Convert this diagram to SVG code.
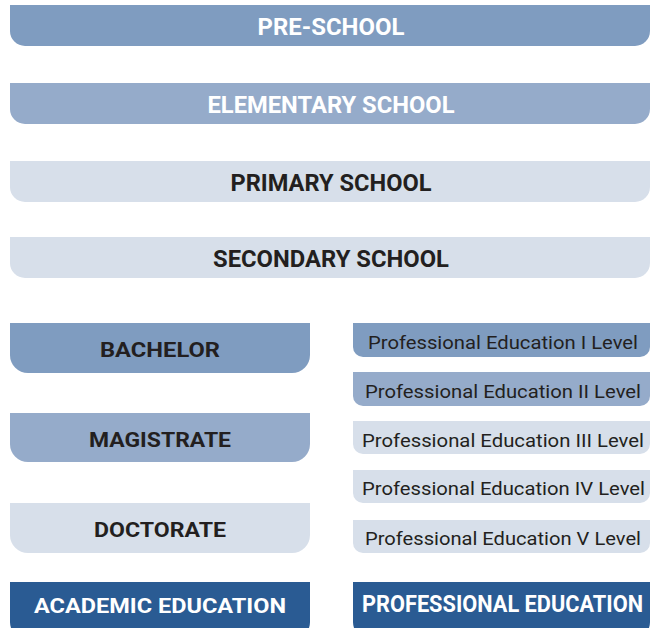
<svg xmlns="http://www.w3.org/2000/svg" width="650" height="628" viewBox="0 0 650 628">
<style>
.c1{fill:#7f9cc0}.c2{fill:#95abca}.c3{fill:#d7dfea}.c4{fill:#2a5b93}
.h{font-family:Roboto,"Liberation Sans",sans-serif;font-weight:700;text-anchor:middle}
.top{font-size:23px}
.mid{font-size:21px}
.lv{font-family:Roboto,"Liberation Sans",sans-serif;font-size:18.5px;text-anchor:middle;fill:#231f20}
.w{fill:#ffffff}.d{fill:#231f20}
</style>
<rect width="650" height="628" fill="#ffffff"/>
<g id="pre-school"><path class="c1" d="M10 5H650V31A15 15 0 0 1 635 46H25A15 15 0 0 1 10 31Z"/><text class="h top w" x="331" y="35" textLength="147" lengthAdjust="spacingAndGlyphs">PRE-SCHOOL</text></g>
<g id="elementary-school"><path class="c2" d="M10 83H650V109A15 15 0 0 1 635 124H25A15 15 0 0 1 10 109Z"/><text class="h top w" x="331" y="113" textLength="247" lengthAdjust="spacingAndGlyphs">ELEMENTARY SCHOOL</text></g>
<g id="primary-school"><path class="c3" d="M10 161H650V187A15 15 0 0 1 635 202H25A15 15 0 0 1 10 187Z"/><text class="h top d" x="331" y="191" textLength="201" lengthAdjust="spacingAndGlyphs">PRIMARY SCHOOL</text></g>
<g id="secondary-school"><path class="c3" d="M10 237H650V263A15 15 0 0 1 635 278H25A15 15 0 0 1 10 263Z"/><text class="h top d" x="331" y="267" textLength="236" lengthAdjust="spacingAndGlyphs">SECONDARY SCHOOL</text></g>
<g id="bachelor"><path class="c1" d="M10 323H310V355A18 18 0 0 1 292 373H28A18 18 0 0 1 10 355Z"/><text class="h mid d" x="160" y="357" textLength="120" lengthAdjust="spacingAndGlyphs">BACHELOR</text></g>
<g id="magistrate"><path class="c2" d="M10 413H310V444A18 18 0 0 1 292 462H28A18 18 0 0 1 10 444Z"/><text class="h mid d" x="160" y="447" textLength="142" lengthAdjust="spacingAndGlyphs">MAGISTRATE</text></g>
<g id="doctorate"><path class="c3" d="M10 503H310V535A18 18 0 0 1 292 553H28A18 18 0 0 1 10 535Z"/><text class="h mid d" x="160" y="537" textLength="132" lengthAdjust="spacingAndGlyphs">DOCTORATE</text></g>
<g id="academic-education"><path class="c4" d="M10 582H310V622A18 18 0 0 1 292 640H28A18 18 0 0 1 10 622Z"/><text class="h mid w" x="160" y="613" textLength="252" lengthAdjust="spacingAndGlyphs">ACADEMIC EDUCATION</text></g>
<g id="prof-level-1"><path class="c1" d="M353 323H650V347A10 10 0 0 1 640 357H363A10 10 0 0 1 353 347Z"/><text class="lv" x="503" y="349" textLength="270" lengthAdjust="spacingAndGlyphs">Professional Education I Level</text></g>
<g id="prof-level-2"><path class="c2" d="M353 372H650V396A10 10 0 0 1 640 406H363A10 10 0 0 1 353 396Z"/><text class="lv" x="503" y="398" textLength="276" lengthAdjust="spacingAndGlyphs">Professional Education II Level</text></g>
<g id="prof-level-3"><path class="c3" d="M353 421H650V444A10 10 0 0 1 640 454H363A10 10 0 0 1 353 444Z"/><text class="lv" x="503" y="447" textLength="282" lengthAdjust="spacingAndGlyphs">Professional Education III Level</text></g>
<g id="prof-level-4"><path class="c3" d="M353 470H650V493A10 10 0 0 1 640 503H363A10 10 0 0 1 353 493Z"/><text class="lv" x="503.5" y="495" textLength="283" lengthAdjust="spacingAndGlyphs">Professional Education IV Level</text></g>
<g id="prof-level-5"><path class="c3" d="M353 520H650V543A10 10 0 0 1 640 553H363A10 10 0 0 1 353 543Z"/><text class="lv" x="503" y="545" textLength="276" lengthAdjust="spacingAndGlyphs">Professional Education V Level</text></g>
<g id="professional-education"><path class="c4" d="M353 582H650V622A18 18 0 0 1 632 640H371A18 18 0 0 1 353 622Z"/><text class="h top w" x="502.5" y="612" textLength="281" lengthAdjust="spacingAndGlyphs">PROFESSIONAL EDUCATION</text></g>
<g id="connectors"></g>
</svg>
